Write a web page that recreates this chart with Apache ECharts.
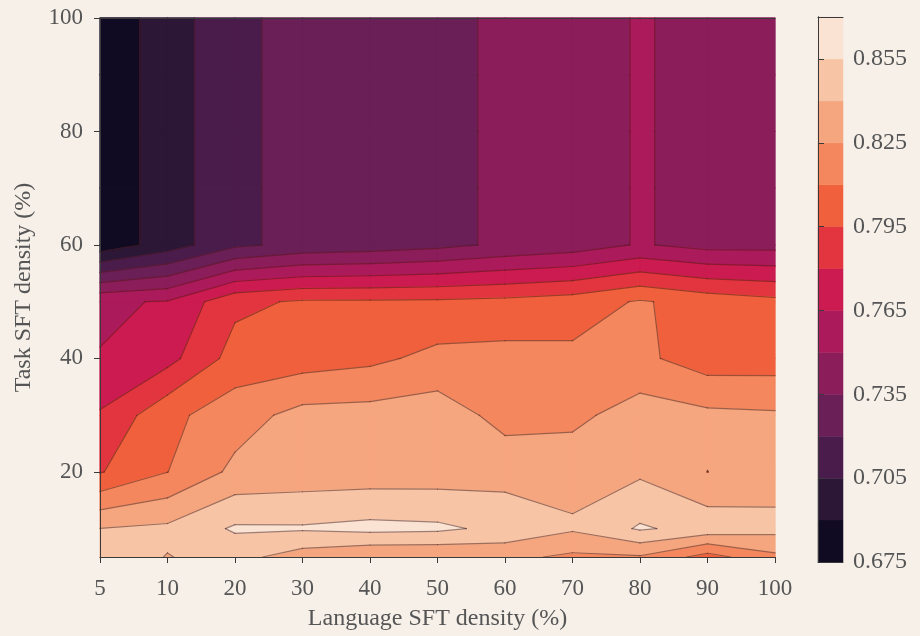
<!DOCTYPE html>
<html><head><meta charset="utf-8">
<script src="https://cdn.jsdelivr.net/npm/echarts@6/dist/echarts.min.js"></script>
<style>html,body{margin:0;padding:0;background:#f6f0e9}#c{width:920px;height:636px}</style>
</head><body><div id="c"></div>
<script>
// ---- data ----
const xLabels = ['5','10','20','30','40','50','60','70','80','90','100'];
const yValues = [5,10,20,30,40,50,60,70,80,90,100];
const yTicks = [20,40,60,80,100];
// accuracy per (language density = column, task density = row)
const row5   = [0.848, 0.8395, 0.845, 0.8328, 0.826, 0.826, 0.829, 0.822, 0.8235, 0.804, 0.8216];
const row10  = [0.8402, 0.843, 0.857, 0.8567, 0.8594, 0.858, 0.851, 0.842, 0.8568, 0.8496, 0.8449];
const row20  = [0.794, 0.8098, 0.8286, 0.831, 0.8317, 0.8322, 0.8339, 0.8344, 0.8375, 0.8249, 0.832];
const row30  = [0.7816, 0.806, 0.8183, 0.830, 0.8308, 0.8331, 0.820, 0.821, 0.8324, 0.8284, 0.8269];
const row40  = [0.7655, 0.775, 0.801, 0.803, 0.8066, 0.8142, 0.815, 0.8134, 0.8134, 0.8021, 0.8027];
const row50  = [0.763, 0.766, 0.7915, 0.7968, 0.797, 0.7975, 0.799, 0.8025, 0.8115, 0.804, 0.799];
const row60  = [0.680, 0.697, 0.717, 0.7245, 0.727, 0.731, 0.7377, 0.742, 0.7514, 0.745, 0.745];
const row70  = [0.680, 0.697, 0.717, 0.7245, 0.727, 0.731, 0.7377, 0.742, 0.7514, 0.745, 0.745];
const row80  = [0.680, 0.697, 0.717, 0.7245, 0.727, 0.731, 0.7377, 0.742, 0.7514, 0.745, 0.745];
const row90  = [0.680, 0.697, 0.717, 0.7245, 0.727, 0.731, 0.7377, 0.742, 0.7514, 0.745, 0.745];
const row100 = [0.680, 0.697, 0.717, 0.7245, 0.727, 0.731, 0.7377, 0.742, 0.7514, 0.745, 0.745];
const levels = [0.675,0.69,0.705,0.72,0.735,0.75,0.765,0.78,0.795,0.81,0.825,0.84,0.855,0.87];
const bandColors = ['#100b22','#2c1737','#4a1c4c','#6a1f57','#8b1d5b','#ab1a5a','#cb1b50',
                    '#e3353f','#f0603c','#f4875d','#f6a67f','#f7c5a6','#fae3d2'];
const cbTicks = [0.675,0.705,0.735,0.765,0.795,0.825,0.855];

const Z = [row5,row10,row20,row30,row40,row50,row60,row70,row80,row90,row100];
const cells = [];
for (let j = 0; j < yValues.length - 1; j++)
  for (let i = 0; i < xLabels.length - 1; i++) cells.push([i, yValues[j], j]);
const bands = bandColors.map((c, k) => [k, levels[k]]);

const FONT = 'Liberation Serif';
const TXT = '#555';
const LINE = '#3a3a3a';

function corners(api) {
  const i = api.value(0), j = api.value(2);
  return [[i, j], [i + 1, j], [i + 1, j + 1], [i, j + 1]].map(([a, b]) => {
    const p = api.coord([a, yValues[b]]);
    return { x: p[0], y: p[1], v: Z[b][a] };
  });
}
function clip(poly, lv, above) {
  const out = [];
  const n = poly.length;
  for (let k = 0; k < n; k++) {
    const A = poly[k], B = poly[(k + 1) % n];
    const aIn = above ? A.v >= lv : A.v <= lv;
    const bIn = above ? B.v >= lv : B.v <= lv;
    if (aIn) out.push(A);
    if (aIn !== bIn) {
      const t = (lv - A.v) / (B.v - A.v);
      out.push({ x: A.x + t * (B.x - A.x), y: A.y + t * (B.y - A.y), v: lv });
    }
  }
  return out;
}
function renderFill(params, api) {
  const c = corners(api);
  const children = [];
  for (let b = 0; b < bandColors.length; b++) {
    let p = clip(c, levels[b], true);
    if (p.length < 3) continue;
    p = clip(p, levels[b + 1], false);
    if (p.length < 3) continue;
    children.push({ type: 'polygon', shape: { points: p.map(q => [q.x, q.y]) },
      style: { fill: bandColors[b], stroke: bandColors[b], lineWidth: 1.3, lineJoin: 'round' } });
  }
  return { type: 'group', children };
}
function renderLines(params, api) {
  const c = corners(api);
  const children = [];
  for (let k = 1; k < levels.length - 1; k++) {
    const L = levels[k];
    const pts = [];
    for (let e = 0; e < 4; e++) {
      const A = c[e], B = c[(e + 1) % 4];
      if ((A.v >= L) !== (B.v >= L)) {
        const t = (L - A.v) / (B.v - A.v);
        pts.push([A.x + t * (B.x - A.x), A.y + t * (B.y - A.y)]);
      }
    }
    let segs = [];
    if (pts.length === 2) segs = [[pts[0], pts[1]]];
    else if (pts.length === 4) {
      const center = (c[0].v + c[1].v + c[2].v + c[3].v) / 4;
      if ((c[0].v >= L) === (center >= L)) segs = [[pts[0], pts[1]], [pts[2], pts[3]]];
      else segs = [[pts[1], pts[2]], [pts[3], pts[0]]];
    }
    segs.forEach(s => children.push({ type: 'polyline', shape: { points: s },
      style: { stroke: 'rgba(70,24,20,0.5)', lineWidth: 1.2, lineCap: 'round', fill: null } }));
  }
  return { type: 'group', children };
}

const chart = echarts.init(document.getElementById('c'), null, { renderer: 'canvas' });
const frame = (extra) => Object.assign({
  axisLine: { show: true, lineStyle: { color: LINE, width: 1 } },
  axisTick: { show: false }, axisLabel: { show: false }, splitLine: { show: false }, z: 10
}, extra);

chart.setOption({
  backgroundColor: '#f6f0e9',
  animation: false,
  grid: [
    { left: 100, top: 18, width: 675, height: 542 },
    { left: 818, top: 17, width: 25, height: 545 }
  ],
  xAxis: [
    { gridIndex: 0, type: 'value', min: 0, max: 10, interval: 1, position: 'bottom', z: 10,
      axisLine: { show: true, lineStyle: { color: LINE, width: 1 } },
      axisTick: { show: true, inside: false, length: 6, lineStyle: { color: LINE, width: 1 } },
      axisLabel: { formatter: v => xLabels[Math.round(v)], color: TXT, fontFamily: FONT, fontSize: 23, margin: 20 },
      splitLine: { show: false },
      name: 'Language SFT density (%)', nameLocation: 'middle', nameGap: 50,
      nameTextStyle: { fontFamily: FONT, fontSize: 24, color: TXT } },
    frame({ gridIndex: 0, type: 'value', min: 0, max: 10, position: 'top' }),
    frame({ gridIndex: 1, type: 'value', min: 0, max: 1, position: 'bottom' }),
    frame({ gridIndex: 1, type: 'value', min: 0, max: 1, position: 'top' })
  ],
  yAxis: [
    { gridIndex: 0, type: 'value', min: 5, max: 100, position: 'left', z: 10,
      axisLine: { show: true, lineStyle: { color: LINE, width: 1 } },
      axisTick: { show: true, inside: false, length: 6, customValues: yTicks, lineStyle: { color: LINE, width: 1 } },
      axisLabel: { customValues: yTicks, color: TXT, fontFamily: FONT, fontSize: 23, margin: 17 },
      splitLine: { show: false },
      name: 'Task SFT density (%)', nameLocation: 'middle', nameGap: 64,
      nameTextStyle: { fontFamily: FONT, fontSize: 24, color: TXT } },
    frame({ gridIndex: 0, type: 'value', min: 5, max: 100, position: 'right' }),
    frame({ gridIndex: 1, type: 'value', min: 0.675, max: 0.87, position: 'left' }),
    { gridIndex: 1, type: 'value', min: 0.675, max: 0.87, position: 'right', z: 10,
      axisLine: { show: true, lineStyle: { color: LINE, width: 1 } },
      axisTick: { show: true, inside: false, length: 6, customValues: cbTicks, lineStyle: { color: LINE, width: 1 } },
      axisLabel: { customValues: cbTicks, formatter: v => v.toFixed(3), color: TXT, fontFamily: FONT, fontSize: 24, margin: 10 },
      splitLine: { show: false } }
  ],
  series: [
    { type: 'custom', coordinateSystem: 'cartesian2d', xAxisIndex: 0, yAxisIndex: 0, silent: true, z: 2,
      encode: { x: 0, y: 1 }, data: cells, renderItem: renderFill },
    { type: 'custom', coordinateSystem: 'cartesian2d', xAxisIndex: 0, yAxisIndex: 0, silent: true, z: 3,
      encode: { x: 0, y: 1 }, data: cells, renderItem: renderLines },
    { type: 'custom', coordinateSystem: 'cartesian2d', xAxisIndex: 2, yAxisIndex: 2, silent: true, z: 2,
      encode: { x: 0, y: 1 }, data: bands,
      renderItem: (params, api) => {
        const k = api.value(0);
        const p0 = api.coord([0, levels[k]]), p1 = api.coord([1, levels[k + 1]]);
        return { type: 'rect', shape: { x: p0[0], y: p1[1], width: p1[0] - p0[0], height: p0[1] - p1[1] },
          style: { fill: bandColors[k], stroke: bandColors[k], lineWidth: 0.5 } };
      } }
  ]
});
</script></body></html>
